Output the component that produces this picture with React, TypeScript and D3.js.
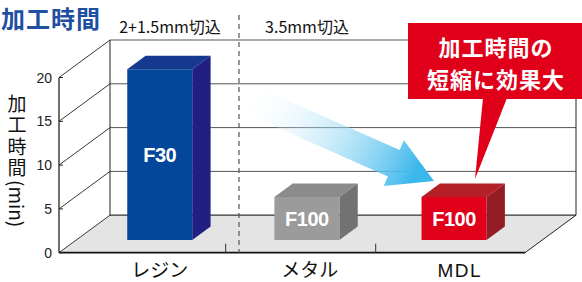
import React from 'react';
import * as d3 from 'd3';

// chart values
const categories = ['レジン', 'メタル', 'MDL'];
const barLabels = ['F30', 'F100', 'F100'];
const minutes = [19.5, 4.9, 4.9];
const yTicks = [0, 5, 10, 15, 20];
const groupLabels = ['2+1.5mm切込', '3.5mm切込'];
const calloutLines = ['加工時間の', '短縮に効果大'];

const faceColors = [
  { front: '#03479b', top: '#15398e', side: '#221f82' },
  { front: '#9b9b9b', top: '#8b8b8b', side: '#727272' },
  { front: '#e1001a', top: '#b51f27', side: '#941c24' },
];

const W = 582;
const H = 282;
const DX = 51; // depth offset of back wall
const DY = -37.5;
const AXIS_X = 59;
const JP = '"Noto Sans CJK JP", "Noto Sans", sans-serif';
const LAT = '"Liberation Sans", Arial, sans-serif';

export default function App() {
  const y = d3.scaleLinear().domain([0, 20]).range([252.7, 77.5]);
  const x = d3.scaleBand<string>().domain(categories).range([75.7, 525.7]).padding(0);
  // bar centres sit a little left of the band centres (front plane)
  const xBar = d3.scalePoint<string>().domain(categories).range([142.4, 436.7]);
  const floorRight = 525;

  const bw = 65;
  const d0 = 0.34; // bar front depth
  const d1 = 0.70; // bar back depth

  const pt = (px: number, v: number, depth: number): [number, number] => [px + DX * depth, y(v) + DY * depth];
  const poly = (pts: [number, number][]) => pts.map(p => p.join(',')).join(' ');

  // arrow from blue bar toward red bar
  const tip: [number, number] = [434, 181];
  const start: [number, number] = [244, 97];
  const ang = Math.atan2(tip[1] - start[1], tip[0] - start[0]);
  const ux = Math.cos(ang), uy = Math.sin(ang);
  const nx = -uy, ny = ux;
  const headLen = 44, shaftW = 14.5, headW = 25;
  const hb: [number, number] = [tip[0] - ux * headLen, tip[1] - uy * headLen];
  const arrowPts: [number, number][] = [
    [start[0] - nx * shaftW, start[1] - ny * shaftW],
    [hb[0] - nx * shaftW, hb[1] - ny * shaftW],
    [hb[0] - nx * headW, hb[1] - ny * headW],
    tip,
    [hb[0] + nx * headW, hb[1] + ny * headW],
    [hb[0] + nx * shaftW, hb[1] + ny * shaftW],
    [start[0] + nx * shaftW, start[1] + ny * shaftW],
  ];

  const dividers = categories.slice(1).map(c => x(c)!);

  return (
    <svg width={W} height={H} style={{ position: 'absolute', left: 0, top: 0, background: '#fff' }}>
      <defs>
        <linearGradient id="arrowGrad" gradientUnits="userSpaceOnUse"
          x1={start[0]} y1={start[1]} x2={tip[0] - 20} y2={tip[1] - 5}>
          <stop offset="0%" stopColor="#ffffff" stopOpacity={0} />
          <stop offset="100%" stopColor="#3cb7ec" stopOpacity={1} />
        </linearGradient>
      </defs>

      {/* floor */}
      <polygon
        points={poly([pt(AXIS_X, 0, 0), pt(floorRight, 0, 0), pt(floorRight, 0, 1), pt(AXIS_X, 0, 1)])}
        fill="#e4e4e4" />

      {/* back wall grid */}
      {yTicks.map(v => {
        const a = pt(AXIS_X, v, 1), b = pt(floorRight, v, 1);
        return <line key={'g' + v} x1={a[0]} y1={a[1]} x2={b[0]} y2={b[1]}
          stroke={v === 0 ? '#333' : '#555'} strokeWidth={v === 0 ? 1.2 : 1} />;
      })}
      {/* left wall diagonals */}
      {yTicks.map(v => {
        const a = pt(AXIS_X, v, 0), b = pt(AXIS_X, v, 1);
        return <line key={'d' + v} x1={a[0]} y1={a[1]} x2={b[0]} y2={b[1]} stroke="#222" strokeWidth={0.9} />;
      })}
      <line x1={AXIS_X + DX} y1={y(0) + DY} x2={AXIS_X + DX} y2={y(20) + DY} stroke="#222" strokeWidth={1} />
      <line x1={floorRight + DX} y1={y(0) + DY} x2={floorRight + DX} y2={y(20) + DY} stroke="#222" strokeWidth={1} />
      <line x1={floorRight} y1={y(0)} x2={floorRight + DX} y2={y(0) + DY} stroke="#222" strokeWidth={1} />
      <line x1={AXIS_X} y1={y(0)} x2={AXIS_X} y2={y(20)} stroke="#111" strokeWidth={1.2} />
      <line x1={AXIS_X} y1={y(0)} x2={floorRight} y2={y(0)} stroke="#111" strokeWidth={1.8} />

      {/* y ticks */}
      {yTicks.map(v => (
        <g key={'t' + v}>
          <line x1={AXIS_X} y1={y(v)} x2={AXIS_X + 4} y2={y(v)} stroke="#222" strokeWidth={1} />
          <text x={AXIS_X - 7} y={y(v)} dy="0.36em" textAnchor="end" fontFamily={LAT} fontSize={14} fill="#222">{v}</text>
        </g>
      ))}

      {/* category dividers on floor */}
      {dividers.map((dx, i) => (
        <line key={'dv' + i} x1={dx} y1={y(0) - 9} x2={dx} y2={y(0)} stroke="#333" strokeWidth={1} />
      ))}
      <line x1={dividers[0] + 13.3} y1={15} x2={dividers[0] + 13.3} y2={y(0)} stroke="#555" strokeWidth={1.2} strokeDasharray="5,4" />

      {/* bars */}
      {categories.map((c, i) => {
        const cx = xBar(c)!;
        const l = cx - bw / 2, r = cx + bw / 2;
        const v = minutes[i];
        const col = faceColors[i];
        const fl = pt(l, 0, d0), fr = pt(r, 0, d0), ftl = pt(l, v, d0), ftr = pt(r, v, d0);
        const btl = pt(l, v, d1), btr = pt(r, v, d1), bbr = pt(r, 0, d1);
        return (
          <g key={c}>
            <polygon points={poly([ftl, ftr, btr, btl])} fill={col.top} />
            <polygon points={poly([ftr, fr, bbr, btr])} fill={col.side} />
            <polygon points={poly([ftl, ftr, fr, fl])} fill={col.front} />
            <text x={(fl[0] + fr[0]) / 2} y={(ftl[1] + fl[1]) / 2} dy="0.36em" textAnchor="middle"
              fontFamily={LAT} fontWeight="bold" fontSize={20} letterSpacing={-0.5} fill="#fff">{barLabels[i]}</text>
          </g>
        );
      })}

      {/* arrow */}
      <polygon points={poly(arrowPts)} fill="url(#arrowGrad)" />

      {/* category labels */}
      {categories.map(c => (
        <text key={'cl' + c} x={x(c)! + x.bandwidth() / 2 + 9} y={277} textAnchor="middle"
          fontFamily={c === 'MDL' ? LAT : JP} fontSize={19} letterSpacing={c === 'MDL' ? 1.5 : 0} fill="#111">{c}</text>
      ))}

      {/* group headers */}
      <text x={170} y={33} textAnchor="middle" fontFamily={JP} fontSize={16} fill="#111">{groupLabels[0]}</text>
      <text x={307} y={33} textAnchor="middle" fontFamily={JP} fontSize={16} fill="#111">{groupLabels[1]}</text>

      {/* title */}
      <text x={1} y={27.5} fontFamily={JP} fontWeight="bold" fontSize={24} letterSpacing={1} fill="#1f4fa0">加工時間</text>

      {/* y axis title, vertical writing */}
      <text x={17} y={94} fontFamily={JP} fontSize={19} fill="#111" style={{ writingMode: 'vertical-rl' }}>
        <tspan letterSpacing={2.5}>加工時間</tspan><tspan>(min)</tspan>
      </text>

      {/* callout */}
      <polygon points={poly([[483, 98], [507, 98], [475, 179]])} fill="#e0001a" />
      <rect x={408} y={23} width={W - 408} height={76} fill="#e0001a" />
      {calloutLines.map((t, i) => (
        <text key={'co' + i} x={496} y={56 + i * 32} textAnchor="middle" fontFamily={JP} fontWeight="bold"
          fontSize={22} letterSpacing={1} fill="#fff">{t}</text>
      ))}
    </svg>
  );
}
